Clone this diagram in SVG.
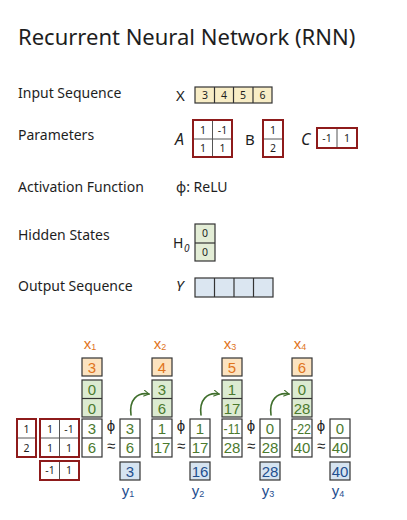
<svg xmlns="http://www.w3.org/2000/svg" width="407" height="520" viewBox="0 0 407 520">
<defs>
<style>
.t{font-family:"Noto Sans","DejaVu Sans",sans-serif;fill:#1e1e1e}
.lbl{font-size:14px}
.sm{font-size:10.5px;text-anchor:middle}
.c{stroke:#333;stroke-width:1.2}
.red{fill:#fff;stroke:#8e1b1b;stroke-width:2}
.rl{stroke:#555;stroke-width:1}
.big{font-family:"Liberation Sans",Arial,sans-serif;font-size:15px;text-anchor:middle}
.op{font-family:"Liberation Sans",Arial,sans-serif;font-size:15px;text-anchor:middle;fill:#1e1e1e}
.g{fill:#4b7a2e}
.o{fill:#e0741c}
.b{fill:#1f4f8f}
.gf{fill:#dcebd1}
.of{fill:#fce3c0}
.bf{fill:#d6e4f1}
.conn{fill:none;stroke:#3f6e2c;stroke-width:1.6;stroke-linecap:round}
</style>
<marker id="ah" viewBox="0 0 10 10" refX="8" refY="5" markerWidth="7" markerHeight="7" orient="auto" markerUnits="userSpaceOnUse">
<path d="M1,1 L8,5 L1,9" fill="none" stroke="#3f6e2c" stroke-width="1.6" stroke-linecap="round"/>
</marker>
</defs>
<rect width="407" height="520" fill="#fff"/>
<text class="t" x="18" y="45" font-size="22">Recurrent Neural Network (RNN)</text>

<g id="labels">
<text class="t lbl" x="18" y="98">Input Sequence</text>
<text class="t lbl" x="18" y="140">Parameters</text>
<text class="t lbl" x="18" y="192">Activation Function</text>
<text class="t lbl" x="18" y="240">Hidden States</text>
<text class="t lbl" x="18" y="291">Output Sequence</text>
</g>

<g id="input-X">
<text class="t" x="176" y="101" font-size="15">X</text>
<rect x="195" y="87" width="77" height="16" fill="#f8edc6" class="c"/>
<line x1="214.5" y1="87" x2="214.5" y2="103" class="c"/>
<line x1="233.5" y1="87" x2="233.5" y2="103" class="c"/>
<line x1="253" y1="87" x2="253" y2="103" class="c"/>
<text class="t sm" x="205" y="99">3</text>
<text class="t sm" x="224" y="99">4</text>
<text class="t sm" x="243" y="99">5</text>
<text class="t sm" x="262.5" y="99">6</text>
</g>

<g id="param-A">
<text class="t" x="175" y="145" font-size="16" font-style="italic">A</text>
<rect x="193" y="120" width="39" height="37" class="red"/>
<line x1="212.5" y1="121" x2="212.5" y2="156" class="rl"/>
<line x1="194" y1="139" x2="231" y2="139" class="rl"/>
<text class="t sm" x="203" y="134">1</text>
<text class="t sm" x="222.5" y="134">-1</text>
<text class="t sm" x="203" y="152">1</text>
<text class="t sm" x="222.5" y="152">1</text>
</g>
<g id="param-B">
<text class="t" x="245" y="145" font-size="15">B</text>
<rect x="263" y="120" width="20" height="37" class="red"/>
<line x1="264" y1="139" x2="282" y2="139" class="rl"/>
<text class="t sm" x="273" y="134">1</text>
<text class="t sm" x="273" y="152">2</text>
</g>
<g id="param-C">
<text class="t" x="301" y="145" font-size="16" font-style="italic">C</text>
<rect x="317" y="128" width="40" height="20" class="red"/>
<line x1="337" y1="129" x2="337" y2="147" class="rl"/>
<text class="t sm" x="327" y="142">-1</text>
<text class="t sm" x="347" y="142">1</text>
</g>

<g id="activation">
<text class="t" x="176" y="192" font-size="14">ϕ: ReLU</text>
</g>

<g id="H0">
<text class="t" x="173" y="248" font-size="14">H</text>
<text class="t" x="184" y="252" font-size="10" font-style="italic">0</text>
<rect x="195" y="224" width="20" height="37" fill="#e3edd6" class="c"/>
<line x1="195" y1="243" x2="215" y2="243" class="c"/>
<text class="t sm" x="205" y="237">0</text>
<text class="t sm" x="205" y="256">0</text>
</g>

<g id="output-Y">
<text class="t" x="176" y="291" font-size="15" font-style="italic">Y</text>
<rect x="195" y="278" width="78" height="19" fill="#dbe6f1" class="c"/>
<line x1="214.5" y1="278" x2="214.5" y2="297" class="c"/>
<line x1="234" y1="278" x2="234" y2="297" class="c"/>
<line x1="253.5" y1="278" x2="253.5" y2="297" class="c"/>
</g>

<g id="weights-left">
<rect x="17" y="419" width="19" height="38" class="red"/>
<line x1="18" y1="438" x2="35" y2="438" class="rl"/>
<text class="t sm" x="26.5" y="433">1</text>
<text class="t sm" x="26.5" y="452">2</text>
<rect x="40" y="419" width="39" height="38" class="red"/>
<line x1="59.5" y1="420" x2="59.5" y2="456" class="rl"/>
<line x1="41" y1="438" x2="78" y2="438" class="rl"/>
<text class="t sm" x="50" y="433">1</text>
<text class="t sm" x="69" y="433">-1</text>
<text class="t sm" x="50" y="452">1</text>
<text class="t sm" x="69" y="452">1</text>
<rect x="40" y="461" width="39" height="19" class="red"/>
<line x1="59.5" y1="462" x2="59.5" y2="479" class="rl"/>
<text class="t sm" x="50" y="474">-1</text>
<text class="t sm" x="69" y="474">1</text>
</g>

<g id="step1">
<text class="big o" x="90" y="349">x<tspan font-size="9" dy="1">1</tspan></text>
<rect x="82" y="358" width="20" height="18" class="c of"/>
<text class="big o" x="92" y="372.5">3</text>
<rect x="82" y="380" width="20" height="37" class="c gf"/>
<line x1="82" y1="398.5" x2="102" y2="398.5" class="c"/>
<text class="big g" x="92" y="395">0</text>
<text class="big g" x="92" y="413.5">0</text>
<rect x="82" y="419" width="20" height="38" class="c" fill="#fff"/>
<line x1="82" y1="438" x2="102" y2="438" class="c"/>
<text class="big g" x="92" y="434">3</text>
<text class="big g" x="92" y="453">6</text>
<text class="op" x="111" y="431">ϕ</text>
<text class="op" x="111" y="451">≈</text>
<rect x="120" y="419" width="20" height="38" class="c" fill="#fff"/>
<line x1="120" y1="438" x2="140" y2="438" class="c"/>
<text class="big g" x="130" y="434">3</text>
<text class="big g" x="130" y="453">6</text>
<rect x="120" y="462" width="20" height="18" class="c bf"/>
<text class="big b" x="130" y="476.5">3</text>
<text class="big b" x="128" y="496">y<tspan font-size="9" dy="1">1</tspan></text>
</g>

<g id="step2">
<text class="big o" x="160" y="349">x<tspan font-size="9" dy="1">2</tspan></text>
<rect x="152" y="358" width="20" height="18" class="c of"/>
<text class="big o" x="162" y="372.5">4</text>
<rect x="152" y="380" width="20" height="37" class="c gf"/>
<line x1="152" y1="398.5" x2="172" y2="398.5" class="c"/>
<text class="big g" x="162" y="395">3</text>
<text class="big g" x="162" y="413.5">6</text>
<rect x="152" y="419" width="20" height="38" class="c" fill="#fff"/>
<line x1="152" y1="438" x2="172" y2="438" class="c"/>
<text class="big g" x="162" y="434">1</text>
<text class="big g" x="162" y="453">17</text>
<text class="op" x="181" y="431">ϕ</text>
<text class="op" x="181" y="451">≈</text>
<rect x="190" y="419" width="20" height="38" class="c" fill="#fff"/>
<line x1="190" y1="438" x2="210" y2="438" class="c"/>
<text class="big g" x="200" y="434">1</text>
<text class="big g" x="200" y="453">17</text>
<rect x="190" y="462" width="20" height="18" class="c bf"/>
<text class="big b" x="200" y="476.5">16</text>
<text class="big b" x="198" y="496">y<tspan font-size="9" dy="1">2</tspan></text>
</g>

<g id="step3">
<text class="big o" x="230" y="349">x<tspan font-size="9" dy="1">3</tspan></text>
<rect x="222" y="358" width="20" height="18" class="c of"/>
<text class="big o" x="232" y="372.5">5</text>
<rect x="222" y="380" width="20" height="37" class="c gf"/>
<line x1="222" y1="398.5" x2="242" y2="398.5" class="c"/>
<text class="big g" x="232" y="395">1</text>
<text class="big g" x="232" y="413.5">17</text>
<rect x="222" y="419" width="20" height="38" class="c" fill="#fff"/>
<line x1="222" y1="438" x2="242" y2="438" class="c"/>
<text class="big g" x="232" y="434" textLength="17" lengthAdjust="spacingAndGlyphs">-11</text>
<text class="big g" x="232" y="453">28</text>
<text class="op" x="251" y="431">ϕ</text>
<text class="op" x="251" y="451">≈</text>
<rect x="260" y="419" width="20" height="38" class="c" fill="#fff"/>
<line x1="260" y1="438" x2="280" y2="438" class="c"/>
<text class="big g" x="270" y="434">0</text>
<text class="big g" x="270" y="453">28</text>
<rect x="260" y="462" width="20" height="18" class="c bf"/>
<text class="big b" x="270" y="476.5">28</text>
<text class="big b" x="268" y="496">y<tspan font-size="9" dy="1">3</tspan></text>
</g>

<g id="step4">
<text class="big o" x="300" y="349">x<tspan font-size="9" dy="1">4</tspan></text>
<rect x="292" y="358" width="20" height="18" class="c of"/>
<text class="big o" x="302" y="372.5">6</text>
<rect x="292" y="380" width="20" height="37" class="c gf"/>
<line x1="292" y1="398.5" x2="312" y2="398.5" class="c"/>
<text class="big g" x="302" y="395">0</text>
<text class="big g" x="302" y="413.5">28</text>
<rect x="292" y="419" width="20" height="38" class="c" fill="#fff"/>
<line x1="292" y1="438" x2="312" y2="438" class="c"/>
<text class="big g" x="302" y="434" textLength="18" lengthAdjust="spacingAndGlyphs">-22</text>
<text class="big g" x="302" y="453">40</text>
<text class="op" x="321" y="431">ϕ</text>
<text class="op" x="321" y="451">≈</text>
<rect x="330" y="419" width="20" height="38" class="c" fill="#fff"/>
<line x1="330" y1="438" x2="350" y2="438" class="c"/>
<text class="big g" x="340" y="434">0</text>
<text class="big g" x="340" y="453">40</text>
<rect x="330" y="462" width="20" height="18" class="c bf"/>
<text class="big b" x="340" y="476.5">40</text>
<text class="big b" x="338" y="496">y<tspan font-size="9" dy="1">4</tspan></text>
</g>

<g id="connectors">
<path class="conn" d="M131,415 C129,400 137,392 149,394" marker-end="url(#ah)"/>
<path class="conn" d="M201,415 C199,400 207,392 219,394" marker-end="url(#ah)"/>
<path class="conn" d="M271,415 C269,400 277,392 289,394" marker-end="url(#ah)"/>
</g>
</svg>
